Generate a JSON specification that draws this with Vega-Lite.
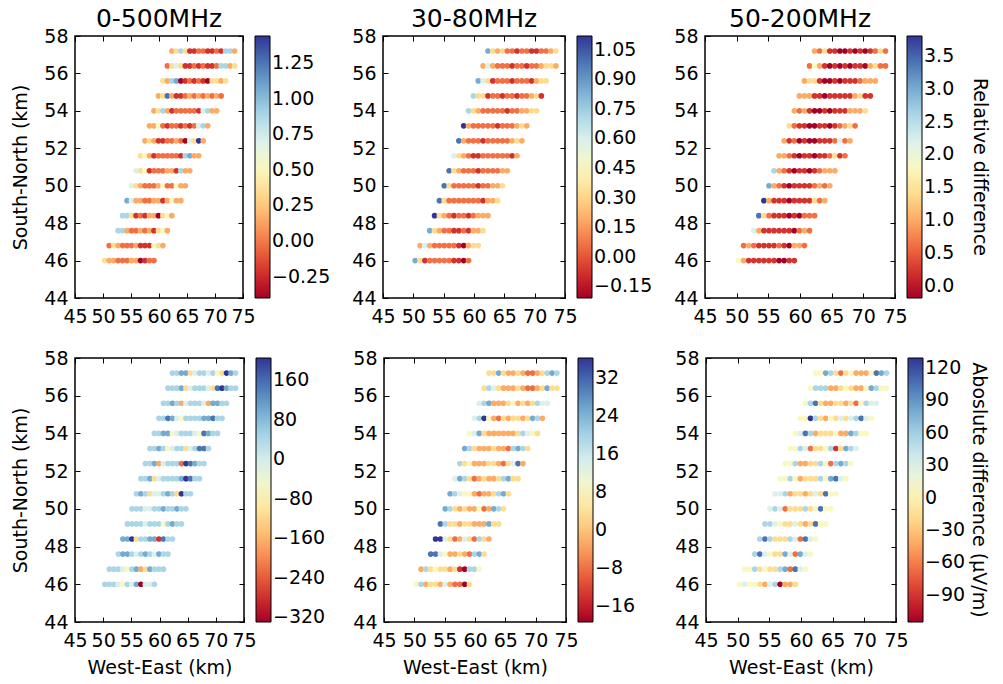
{
"$schema": "https://vega.github.io/schema/vega-lite/v6.json",
"background": "white",
"padding": {"left": 11, "top": 6, "right": 0, "bottom": 4},
"data": {"values": [
{"x":50.3,"y":46,"a":0.34,"b":0.85,"c":1.81,"d":44,"e":8.4,"f":7},
{"x":51.1,"y":46,"a":0.15,"b":0.32,"c":1.01,"d":44,"e":19.5,"f":31},
{"x":51.9,"y":46,"a":0.15,"b":-0.08,"c":0.22,"d":44,"e":-2.7,"f":7},
{"x":52.7,"y":46,"a":-0.03,"b":0.06,"c":0.22,"d":-9,"e":2.8,"f":7},
{"x":53.5,"y":46,"a":-0.03,"b":0.06,"c":0.22,"d":-62,"e":2.8,"f":-17},
{"x":54.3,"y":46,"a":-0.03,"b":0.06,"c":0.22,"d":44,"e":-2.7,"f":-42},
{"x":55.1,"y":46,"a":0.15,"b":0.06,"c":0.22,"d":-9,"e":14,"f":31},
{"x":55.9,"y":46,"a":0.15,"b":0.06,"c":0.22,"d":98,"e":-2.7,"f":56},
{"x":56.7,"y":46,"a":-0.4,"b":-0.08,"c":-0.18,"d":-330,"e":-8.3,"f":-115},
{"x":57.5,"y":46,"a":-0.22,"b":-0.08,"c":-0.18,"d":-9,"e":-8.3,"f":-42},
{"x":58.3,"y":46,"a":-0.03,"b":-0.21,"c":0.22,"d":-9,"e":-19.4,"f":-42},
{"x":59.1,"y":46,"a":-0.03,"b":0.06,"c":0.22,"d":44,"e":2.8,"f":-17},
{"x":51.1,"y":46.8,"a":-0.03,"b":0.19,"c":0.62,"d":44,"e":-2.7,"f":7},
{"x":51.9,"y":46.8,"a":0.34,"b":0.59,"c":1.01,"d":44,"e":19.5,"f":7},
{"x":52.7,"y":46.8,"a":0.15,"b":0.19,"c":0.62,"d":44,"e":2.8,"f":56},
{"x":53.5,"y":46.8,"a":-0.03,"b":0.06,"c":0.22,"d":-9,"e":8.4,"f":-17},
{"x":54.3,"y":46.8,"a":-0.03,"b":0.06,"c":0.22,"d":-62,"e":2.8,"f":7},
{"x":55.1,"y":46.8,"a":-0.03,"b":0.06,"c":0.22,"d":44,"e":2.8,"f":-17},
{"x":55.9,"y":46.8,"a":0.15,"b":0.06,"c":0.22,"d":98,"e":-2.7,"f":-17},
{"x":56.7,"y":46.8,"a":-0.22,"b":0.06,"c":0.62,"d":-170,"e":2.8,"f":56},
{"x":57.5,"y":46.8,"a":-0.22,"b":-0.08,"c":0.22,"d":-116,"e":-13.8,"f":80},
{"x":58.3,"y":46.8,"a":-0.22,"b":-0.21,"c":-0.18,"d":98,"e":-19.4,"f":-66},
{"x":59.1,"y":46.8,"a":0.52,"b":0.19,"c":1.01,"d":44,"e":19.5,"f":105},
{"x":59.9,"y":46.8,"a":0.34,"b":0.32,"c":1.01,"d":44,"e":19.5,"f":31},
{"x":60.7,"y":46.8,"a":0.15,"b":0.32,"c":0.62,"d":44,"e":8.4,"f":7},
{"x":52.7,"y":47.6,"a":0.89,"b":0.85,"c":2.21,"d":44,"e":30.6,"f":56},
{"x":53.5,"y":47.6,"a":0.89,"b":0.32,"c":1.01,"d":98,"e":30.6,"f":105},
{"x":54.3,"y":47.6,"a":0.15,"b":0.19,"c":0.22,"d":98,"e":14,"f":31},
{"x":55.1,"y":47.6,"a":-0.03,"b":0.06,"c":0.22,"d":44,"e":8.4,"f":7},
{"x":55.9,"y":47.6,"a":-0.03,"b":0.06,"c":0.22,"d":-9,"e":-2.7,"f":-17},
{"x":56.7,"y":47.6,"a":0.15,"b":-0.08,"c":0.22,"d":44,"e":-2.7,"f":-17},
{"x":57.5,"y":47.6,"a":-0.03,"b":-0.08,"c":0.22,"d":98,"e":2.8,"f":80},
{"x":58.3,"y":47.6,"a":0.15,"b":0.06,"c":0.22,"d":44,"e":-2.7,"f":31},
{"x":59.1,"y":47.6,"a":-0.22,"b":-0.08,"c":-0.18,"d":-9,"e":-8.3,"f":-66},
{"x":59.9,"y":47.6,"a":0.34,"b":0.19,"c":0.62,"d":98,"e":19.5,"f":80},
{"x":60.7,"y":47.6,"a":0.52,"b":0.19,"c":1.01,"d":44,"e":25.1,"f":31},
{"x":61.5,"y":47.6,"a":0.15,"b":0.32,"c":0.62,"d":44,"e":2.8,"f":7},
{"x":53.5,"y":48.4,"a":0.89,"b":1.12,"c":3.4,"d":98,"e":36.2,"f":56},
{"x":54.3,"y":48.4,"a":0.89,"b":0.32,"c":1.41,"d":98,"e":36.2,"f":105},
{"x":55.1,"y":48.4,"a":0.34,"b":0.19,"c":0.62,"d":205,"e":14,"f":56},
{"x":55.9,"y":48.4,"a":-0.22,"b":0.06,"c":0.22,"d":-116,"e":2.8,"f":-17},
{"x":56.7,"y":48.4,"a":-0.03,"b":-0.08,"c":0.22,"d":44,"e":-8.3,"f":-17},
{"x":57.5,"y":48.4,"a":-0.22,"b":0.06,"c":0.22,"d":44,"e":-2.7,"f":-17},
{"x":58.3,"y":48.4,"a":0.15,"b":0.06,"c":-0.18,"d":98,"e":14,"f":56},
{"x":59.1,"y":48.4,"a":0.15,"b":-0.08,"c":0.22,"d":98,"e":2.8,"f":31},
{"x":59.9,"y":48.4,"a":-0.4,"b":0.06,"c":-0.18,"d":-276,"e":-8.3,"f":-66},
{"x":60.7,"y":48.4,"a":0.34,"b":0.19,"c":0.62,"d":151,"e":19.5,"f":105},
{"x":61.5,"y":48.4,"a":0.52,"b":0.19,"c":0.62,"d":44,"e":2.8,"f":31},
{"x":62.3,"y":48.4,"a":0.15,"b":0.19,"c":0.62,"d":44,"e":-2.7,"f":7},
{"x":54.3,"y":49.2,"a":1.07,"b":0.99,"c":3.8,"d":44,"e":30.6,"f":56},
{"x":55.1,"y":49.2,"a":0.7,"b":0.32,"c":1.01,"d":44,"e":19.5,"f":56},
{"x":55.9,"y":49.2,"a":0.15,"b":0.06,"c":0.22,"d":44,"e":2.8,"f":31},
{"x":56.7,"y":49.2,"a":0.15,"b":0.06,"c":0.22,"d":44,"e":2.8,"f":7},
{"x":57.5,"y":49.2,"a":-0.03,"b":0.06,"c":0.22,"d":-9,"e":-2.7,"f":-17},
{"x":58.3,"y":49.2,"a":-0.03,"b":0.06,"c":-0.18,"d":44,"e":2.8,"f":-17},
{"x":59.1,"y":49.2,"a":0.15,"b":0.06,"c":0.22,"d":44,"e":2.8,"f":31},
{"x":59.9,"y":49.2,"a":0.15,"b":0.06,"c":0.22,"d":44,"e":-2.7,"f":-17},
{"x":60.7,"y":49.2,"a":-0.22,"b":0.06,"c":0.22,"d":-62,"e":-2.7,"f":-42},
{"x":61.5,"y":49.2,"a":0.15,"b":-0.08,"c":0.22,"d":44,"e":-2.7,"f":-17},
{"x":62.3,"y":49.2,"a":0.52,"b":0.19,"c":1.41,"d":98,"e":25.1,"f":105},
{"x":63.1,"y":49.2,"a":0.15,"b":0.19,"c":0.62,"d":44,"e":2.8,"f":7},
{"x":63.9,"y":49.2,"a":0.15,"b":0.32,"c":1.01,"d":44,"e":2.8,"f":7},
{"x":55.1,"y":50,"a":0.7,"b":0.99,"c":3,"d":44,"e":25.1,"f":31},
{"x":55.9,"y":50,"a":0.34,"b":0.32,"c":1.01,"d":44,"e":19.5,"f":56},
{"x":56.7,"y":50,"a":0.15,"b":0.06,"c":0.62,"d":44,"e":2.8,"f":31},
{"x":57.5,"y":50,"a":-0.03,"b":0.06,"c":0.22,"d":-9,"e":-2.7,"f":-66},
{"x":58.3,"y":50,"a":-0.03,"b":0.06,"c":-0.18,"d":-9,"e":2.8,"f":-17},
{"x":59.1,"y":50,"a":-0.03,"b":0.06,"c":0.22,"d":44,"e":-2.7,"f":-17},
{"x":59.9,"y":50,"a":0.15,"b":0.06,"c":0.22,"d":44,"e":-2.7,"f":-17},
{"x":60.7,"y":50,"a":0.52,"b":-0.08,"c":0.22,"d":98,"e":8.4,"f":56},
{"x":61.5,"y":50,"a":-0.03,"b":0.06,"c":0.22,"d":44,"e":-8.3,"f":-17},
{"x":62.3,"y":50,"a":-0.03,"b":0.06,"c":0.62,"d":44,"e":-2.7,"f":7},
{"x":63.1,"y":50,"a":0.52,"b":0.19,"c":1.01,"d":98,"e":25.1,"f":105},
{"x":63.9,"y":50,"a":0.15,"b":0.19,"c":0.62,"d":44,"e":19.5,"f":7},
{"x":64.7,"y":50,"a":0.15,"b":0.32,"c":1.01,"d":44,"e":2.8,"f":7},
{"x":55.9,"y":50.8,"a":0.7,"b":0.99,"c":2.61,"d":44,"e":25.1,"f":31},
{"x":56.7,"y":50.8,"a":0.34,"b":0.32,"c":1.01,"d":98,"e":19.5,"f":31},
{"x":57.5,"y":50.8,"a":0.52,"b":0.19,"c":0.62,"d":44,"e":14,"f":56},
{"x":58.3,"y":50.8,"a":-0.22,"b":0.06,"c":0.22,"d":-116,"e":8.4,"f":-42},
{"x":59.1,"y":50.8,"a":-0.03,"b":0.06,"c":-0.18,"d":-9,"e":8.4,"f":-17},
{"x":59.9,"y":50.8,"a":-0.03,"b":0.06,"c":0.22,"d":-9,"e":-2.7,"f":-17},
{"x":60.7,"y":50.8,"a":-0.03,"b":-0.08,"c":0.22,"d":44,"e":-8.3,"f":-42},
{"x":61.5,"y":50.8,"a":0.15,"b":0.06,"c":-0.18,"d":98,"e":-2.7,"f":-17},
{"x":62.3,"y":50.8,"a":0.15,"b":0.06,"c":0.22,"d":44,"e":-2.7,"f":31},
{"x":63.1,"y":50.8,"a":-0.22,"b":0.06,"c":0.62,"d":-116,"e":2.8,"f":-17},
{"x":63.9,"y":50.8,"a":0.89,"b":0.06,"c":1.01,"d":205,"e":19.5,"f":105},
{"x":64.7,"y":50.8,"a":0.15,"b":0.19,"c":1.01,"d":44,"e":25.1,"f":7},
{"x":65.5,"y":50.8,"a":0.15,"b":0.19,"c":1.01,"d":44,"e":2.8,"f":7},
{"x":56.7,"y":51.6,"a":0.34,"b":0.59,"c":1.01,"d":44,"e":14,"f":7},
{"x":57.5,"y":51.6,"a":0.52,"b":0.32,"c":1.01,"d":44,"e":25.1,"f":7},
{"x":58.3,"y":51.6,"a":0.15,"b":0.19,"c":0.62,"d":98,"e":19.5,"f":56},
{"x":59.1,"y":51.6,"a":-0.22,"b":0.06,"c":0.22,"d":-116,"e":2.8,"f":7},
{"x":59.9,"y":51.6,"a":-0.03,"b":-0.08,"c":-0.18,"d":-9,"e":-8.3,"f":-42},
{"x":60.7,"y":51.6,"a":-0.03,"b":-0.08,"c":0.22,"d":44,"e":-2.7,"f":-17},
{"x":61.5,"y":51.6,"a":-0.03,"b":0.06,"c":0.22,"d":44,"e":2.8,"f":-17},
{"x":62.3,"y":51.6,"a":-0.03,"b":0.06,"c":-0.18,"d":44,"e":-2.7,"f":-17},
{"x":63.1,"y":51.6,"a":-0.03,"b":0.06,"c":0.22,"d":44,"e":-2.7,"f":56},
{"x":63.9,"y":51.6,"a":-0.22,"b":0.06,"c":0.22,"d":98,"e":2.8,"f":7},
{"x":64.7,"y":51.6,"a":0.89,"b":0.06,"c":0.62,"d":205,"e":19.5,"f":80},
{"x":65.5,"y":51.6,"a":1.07,"b":0.06,"c":1.41,"d":151,"e":25.1,"f":105},
{"x":66.3,"y":51.6,"a":0.15,"b":-0.08,"c":0.22,"d":44,"e":2.8,"f":31},
{"x":67.1,"y":51.6,"a":0.15,"b":0.19,"c":0.62,"d":44,"e":2.8,"f":7},
{"x":57.5,"y":52.4,"a":0.15,"b":0.99,"c":1.01,"d":44,"e":19.5,"f":7},
{"x":58.3,"y":52.4,"a":0.34,"b":0.19,"c":0.22,"d":44,"e":2.8,"f":7},
{"x":59.1,"y":52.4,"a":0.15,"b":0.06,"c":0.62,"d":98,"e":8.4,"f":56},
{"x":59.9,"y":52.4,"a":-0.22,"b":0.06,"c":-0.18,"d":-170,"e":-2.7,"f":-42},
{"x":60.7,"y":52.4,"a":-0.22,"b":0.06,"c":0.22,"d":-9,"e":-2.7,"f":-42},
{"x":61.5,"y":52.4,"a":-0.03,"b":-0.08,"c":-0.18,"d":44,"e":-2.7,"f":-17},
{"x":62.3,"y":52.4,"a":-0.03,"b":0.06,"c":-0.18,"d":44,"e":2.8,"f":-17},
{"x":63.1,"y":52.4,"a":0.15,"b":0.06,"c":0.22,"d":44,"e":2.8,"f":56},
{"x":63.9,"y":52.4,"a":-0.03,"b":0.06,"c":0.22,"d":-223,"e":-2.7,"f":7},
{"x":64.7,"y":52.4,"a":-0.4,"b":0.06,"c":0.22,"d":205,"e":-8.3,"f":-66},
{"x":65.5,"y":52.4,"a":0.7,"b":0.06,"c":0.62,"d":151,"e":2.8,"f":56},
{"x":66.3,"y":52.4,"a":0.34,"b":0.19,"c":2.21,"d":98,"e":14,"f":80},
{"x":67.1,"y":52.4,"a":1.44,"b":0.32,"c":0.62,"d":44,"e":30.6,"f":56},
{"x":67.9,"y":52.4,"a":0.15,"b":0.19,"c":1.01,"d":44,"e":-2.7,"f":7},
{"x":58.3,"y":53.2,"a":0.15,"b":1.12,"c":1.41,"d":44,"e":25.1,"f":7},
{"x":59.1,"y":53.2,"a":0.15,"b":0.19,"c":0.62,"d":44,"e":19.5,"f":7},
{"x":59.9,"y":53.2,"a":0.52,"b":0.06,"c":0.22,"d":98,"e":2.8,"f":56},
{"x":60.7,"y":53.2,"a":-0.03,"b":0.06,"c":0.22,"d":44,"e":-2.7,"f":31},
{"x":61.5,"y":53.2,"a":-0.22,"b":0.06,"c":-0.18,"d":-62,"e":-2.7,"f":-66},
{"x":62.3,"y":53.2,"a":-0.03,"b":0.06,"c":-0.18,"d":-9,"e":-2.7,"f":-17},
{"x":63.1,"y":53.2,"a":-0.03,"b":0.06,"c":0.22,"d":44,"e":2.8,"f":-17},
{"x":63.9,"y":53.2,"a":-0.22,"b":-0.08,"c":0.22,"d":44,"e":-2.7,"f":7},
{"x":64.7,"y":53.2,"a":-0.03,"b":0.06,"c":-0.18,"d":-116,"e":-2.7,"f":56},
{"x":65.5,"y":53.2,"a":-0.22,"b":0.06,"c":0.22,"d":-9,"e":-8.3,"f":-91},
{"x":66.3,"y":53.2,"a":-0.03,"b":0.06,"c":0.62,"d":44,"e":19.5,"f":-17},
{"x":67.1,"y":53.2,"a":0.7,"b":0.19,"c":1.01,"d":151,"e":25.1,"f":80},
{"x":67.9,"y":53.2,"a":0.89,"b":0.32,"c":1.41,"d":151,"e":19.5,"f":56},
{"x":68.7,"y":53.2,"a":0.15,"b":0.19,"c":0.62,"d":44,"e":2.8,"f":31},
{"x":59.1,"y":54,"a":0.15,"b":0.72,"c":1.01,"d":44,"e":8.4,"f":7},
{"x":59.9,"y":54,"a":0.34,"b":0.32,"c":0.62,"d":44,"e":14,"f":31},
{"x":60.7,"y":54,"a":0.89,"b":0.19,"c":1.01,"d":98,"e":25.1,"f":105},
{"x":61.5,"y":54,"a":0.15,"b":0.06,"c":0.22,"d":98,"e":2.8,"f":56},
{"x":62.3,"y":54,"a":-0.22,"b":0.06,"c":-0.18,"d":-62,"e":-2.7,"f":-42},
{"x":63.1,"y":54,"a":-0.03,"b":0.06,"c":-0.18,"d":-9,"e":-2.7,"f":-17},
{"x":63.9,"y":54,"a":-0.03,"b":0.06,"c":0.22,"d":44,"e":-2.7,"f":-17},
{"x":64.7,"y":54,"a":-0.03,"b":0.06,"c":-0.18,"d":44,"e":-2.7,"f":-17},
{"x":65.5,"y":54,"a":-0.03,"b":-0.08,"c":0.22,"d":44,"e":-2.7,"f":7},
{"x":66.3,"y":54,"a":-0.03,"b":0.06,"c":0.22,"d":-9,"e":-2.7,"f":-42},
{"x":67.1,"y":54,"a":-0.22,"b":0.06,"c":0.22,"d":-62,"e":2.8,"f":-42},
{"x":67.9,"y":54,"a":0.7,"b":0.19,"c":1.01,"d":151,"e":19.5,"f":80},
{"x":68.7,"y":54,"a":0.89,"b":0.19,"c":1.01,"d":98,"e":14,"f":56},
{"x":69.5,"y":54,"a":0.15,"b":0.32,"c":1.01,"d":44,"e":8.4,"f":7},
{"x":70.3,"y":54,"a":0.15,"b":0.32,"c":1.41,"d":44,"e":2.8,"f":7},
{"x":59.9,"y":54.8,"a":0.15,"b":0.72,"c":1.01,"d":44,"e":14,"f":7},
{"x":60.7,"y":54.8,"a":0.34,"b":0.32,"c":1.01,"d":44,"e":19.5,"f":7},
{"x":61.5,"y":54.8,"a":1.26,"b":0.32,"c":1.01,"d":151,"e":36.2,"f":129},
{"x":62.3,"y":54.8,"a":0.15,"b":-0.08,"c":0.22,"d":98,"e":8.4,"f":56},
{"x":63.1,"y":54.8,"a":-0.22,"b":0.06,"c":0.22,"d":-9,"e":-2.7,"f":-17},
{"x":63.9,"y":54.8,"a":-0.22,"b":0.06,"c":-0.18,"d":-62,"e":-8.3,"f":-42},
{"x":64.7,"y":54.8,"a":-0.03,"b":-0.08,"c":0.22,"d":44,"e":2.8,"f":7},
{"x":65.5,"y":54.8,"a":0.15,"b":0.06,"c":0.22,"d":44,"e":-2.7,"f":-17},
{"x":66.3,"y":54.8,"a":-0.03,"b":0.06,"c":0.22,"d":44,"e":2.8,"f":31},
{"x":67.1,"y":54.8,"a":0.15,"b":-0.08,"c":0.22,"d":44,"e":2.8,"f":-17},
{"x":67.9,"y":54.8,"a":-0.03,"b":0.06,"c":0.22,"d":98,"e":-2.7,"f":31},
{"x":68.7,"y":54.8,"a":0.15,"b":0.06,"c":1.01,"d":98,"e":2.8,"f":56},
{"x":69.5,"y":54.8,"a":-0.03,"b":0.19,"c":1.41,"d":151,"e":25.1,"f":105},
{"x":70.3,"y":54.8,"a":0.15,"b":0.32,"c":0.22,"d":44,"e":19.5,"f":31},
{"x":71.1,"y":54.8,"a":-0.03,"b":-0.08,"c":0.22,"d":44,"e":-2.7,"f":7},
{"x":60.7,"y":55.6,"a":0.34,"b":0.85,"c":1.01,"d":44,"e":14,"f":7},
{"x":61.5,"y":55.6,"a":0.15,"b":0.59,"c":1.41,"d":44,"e":19.5,"f":56},
{"x":62.3,"y":55.6,"a":0.89,"b":0.32,"c":1.41,"d":98,"e":25.1,"f":105},
{"x":63.1,"y":55.6,"a":1.07,"b":-0.08,"c":0.22,"d":44,"e":-2.7,"f":-17},
{"x":63.9,"y":55.6,"a":-0.4,"b":0.06,"c":-0.18,"d":-170,"e":-2.7,"f":-42},
{"x":64.7,"y":55.6,"a":-0.22,"b":0.06,"c":-0.18,"d":-9,"e":-2.7,"f":-42},
{"x":65.5,"y":55.6,"a":-0.03,"b":0.06,"c":0.22,"d":44,"e":2.8,"f":-17},
{"x":66.3,"y":55.6,"a":-0.22,"b":-0.08,"c":-0.18,"d":44,"e":8.4,"f":-17},
{"x":67.1,"y":55.6,"a":-0.03,"b":0.06,"c":0.22,"d":44,"e":-2.7,"f":-42},
{"x":67.9,"y":55.6,"a":-0.22,"b":0.06,"c":0.22,"d":-9,"e":2.8,"f":-17},
{"x":68.7,"y":55.6,"a":-0.4,"b":0.06,"c":0.22,"d":-170,"e":-2.7,"f":-66},
{"x":69.5,"y":55.6,"a":0.34,"b":-0.08,"c":0.62,"d":98,"e":2.8,"f":7},
{"x":70.3,"y":55.6,"a":0.34,"b":0.19,"c":1.01,"d":98,"e":19.5,"f":56},
{"x":71.1,"y":55.6,"a":0.15,"b":0.32,"c":1.01,"d":44,"e":14,"f":31},
{"x":71.9,"y":55.6,"a":0.34,"b":0.32,"c":1.01,"d":44,"e":14,"f":31},
{"x":61.5,"y":56.4,"a":-0.03,"b":0.19,"c":0.62,"d":44,"e":2.8,"f":7},
{"x":62.3,"y":56.4,"a":0.34,"b":0.59,"c":1.81,"d":44,"e":19.5,"f":56},
{"x":63.1,"y":56.4,"a":0.7,"b":0.19,"c":1.01,"d":44,"e":14,"f":56},
{"x":63.9,"y":56.4,"a":0.34,"b":0.06,"c":0.22,"d":98,"e":2.8,"f":56},
{"x":64.7,"y":56.4,"a":-0.22,"b":0.06,"c":-0.18,"d":-116,"e":-2.7,"f":-42},
{"x":65.5,"y":56.4,"a":-0.22,"b":0.06,"c":0.22,"d":-9,"e":-2.7,"f":-42},
{"x":66.3,"y":56.4,"a":-0.03,"b":-0.08,"c":-0.18,"d":44,"e":-2.7,"f":-17},
{"x":67.1,"y":56.4,"a":-0.22,"b":0.06,"c":0.22,"d":44,"e":2.8,"f":7},
{"x":67.9,"y":56.4,"a":-0.03,"b":0.06,"c":-0.18,"d":44,"e":-2.7,"f":-17},
{"x":68.7,"y":56.4,"a":-0.22,"b":-0.08,"c":0.22,"d":-9,"e":-8.3,"f":-42},
{"x":69.5,"y":56.4,"a":-0.22,"b":0.06,"c":0.22,"d":-116,"e":-8.3,"f":-42},
{"x":70.3,"y":56.4,"a":-0.03,"b":0.06,"c":-0.18,"d":151,"e":-2.7,"f":7},
{"x":71.1,"y":56.4,"a":0.89,"b":0.19,"c":1.01,"d":205,"e":2.8,"f":80},
{"x":71.9,"y":56.4,"a":0.89,"b":0.32,"c":1.41,"d":98,"e":25.1,"f":56},
{"x":72.7,"y":56.4,"a":0.15,"b":0.32,"c":0.62,"d":44,"e":2.8,"f":7},
{"x":73.5,"y":56.4,"a":0.34,"b":0.19,"c":0.62,"d":44,"e":2.8,"f":7},
{"x":62.3,"y":57.2,"a":0.15,"b":0.85,"c":1.01,"d":44,"e":2.8,"f":7},
{"x":63.1,"y":57.2,"a":0.34,"b":0.32,"c":0.62,"d":44,"e":2.8,"f":7},
{"x":63.9,"y":57.2,"a":0.89,"b":0.19,"c":1.41,"d":98,"e":25.1,"f":80},
{"x":64.7,"y":57.2,"a":0.34,"b":0.32,"c":0.22,"d":98,"e":2.8,"f":56},
{"x":65.5,"y":57.2,"a":-0.22,"b":0.06,"c":0.22,"d":-116,"e":-2.7,"f":-17},
{"x":66.3,"y":57.2,"a":-0.22,"b":0.06,"c":-0.18,"d":-9,"e":-2.7,"f":-66},
{"x":67.1,"y":57.2,"a":-0.03,"b":-0.08,"c":-0.18,"d":44,"e":2.8,"f":-17},
{"x":67.9,"y":57.2,"a":-0.03,"b":0.06,"c":0.22,"d":44,"e":-2.7,"f":7},
{"x":68.7,"y":57.2,"a":-0.22,"b":0.06,"c":-0.18,"d":-9,"e":-8.3,"f":-42},
{"x":69.5,"y":57.2,"a":-0.22,"b":-0.08,"c":0.22,"d":44,"e":-8.3,"f":-42},
{"x":70.3,"y":57.2,"a":-0.03,"b":-0.08,"c":-0.18,"d":-62,"e":-2.7,"f":-42},
{"x":71.1,"y":57.2,"a":-0.22,"b":0.06,"c":0.22,"d":-116,"e":2.8,"f":7},
{"x":71.9,"y":57.2,"a":0.89,"b":0.06,"c":0.62,"d":205,"e":19.5,"f":105},
{"x":72.7,"y":57.2,"a":0.89,"b":0.19,"c":1.41,"d":98,"e":25.1,"f":80},
{"x":73.5,"y":57.2,"a":0.15,"b":0.32,"c":0.62,"d":44,"e":19.5,"f":56}
]},
"config": {
  "font": "DejaVu Sans",
  "view": {"stroke": "black", "strokeWidth": 1.5},
  "axis": {"grid": false, "domain": false, "ticks": true, "tickColor": "black", "tickSize": -5, "tickWidth": 1, "labelFont": "DejaVu Sans", "labelFontSize": 19, "labelColor": "black", "labelOverlap": false, "labelFlush": false, "titleFont": "DejaVu Sans", "titleFontSize": 19, "titleFontWeight": "normal", "titleColor": "black"},
  "axisX": {"labelPadding": 14, "titlePadding": 8},
  "axisY": {"labelPadding": 12, "titlePadding": 13},
  "legend": {"gradientThickness": 15, "gradientStrokeColor": "black", "gradientStrokeWidth": 1, "labelFont": "DejaVu Sans", "labelFontSize": 19, "labelColor": "black", "labelOffset": 7, "labelOverlap": false, "offset": 11, "padding": 0, "gradientVerticalMaxLength": 400, "titleFont": "DejaVu Sans", "titleFontSize": 19, "titleFontWeight": "normal", "titleColor": "black", "titleLimit": 0},
  "title": {"font": "DejaVu Sans", "fontSize": 25, "fontWeight": "normal", "color": "black", "offset": -5, "frame": "group"}
},
"resolve": {"scale": {"color": "independent"}, "legend": {"color": "independent"}},
"vconcat": [
 {"resolve": {"scale": {"color": "independent"}, "legend": {"color": "independent"}},
  "bounds": "flush",
  "hconcat": [
  {"width": 168, "height": 262, "title": "0-500MHz",
   "layer": [
    {"mark": {"type": "circle", "size": 32, "opacity": 1},
     "encoding": {
      "x": {"field": "x", "type": "quantitative", "scale": {"domain": [45, 75], "nice": false, "zero": false}, "axis": {"title": null, "orient": "bottom", "values": [45,50,55,60,65,70,75]}},
      "y": {"field": "y", "type": "quantitative", "scale": {"domain": [44, 58], "nice": false, "zero": false}, "axis": {"title": "South-North (km)", "orient": "left", "values": [44,46,48,50,52,54,56,58]}},
      "color": {"field": "a", "type": "quantitative", "scale": {"scheme": "redyellowblue", "domain": [-0.4, 1.44]}, "legend": {"title": null, "values": [-0.25,0,0.25,0.5,0.75,1,1.25], "format": ".2f", "gradientLength": 262}}}},
    {"mark": {"type": "circle", "opacity": 0},
     "encoding": {
      "x": {"field": "x", "type": "quantitative", "axis": {"title": null, "orient": "top", "labels": false, "values": [45,50,55,60,65,70,75]}},
      "y": {"field": "y", "type": "quantitative", "axis": {"title": null, "orient": "right", "labels": false, "values": [44,46,48,50,52,54,56,58]}}}}
   ],
   "resolve": {"axis": {"x": "independent", "y": "independent"}}},
  {"width": 182, "height": 262, "title": "30-80MHz",
   "layer": [
    {"mark": {"type": "circle", "size": 32, "opacity": 1},
     "encoding": {
      "x": {"field": "x", "type": "quantitative", "scale": {"domain": [45, 75], "nice": false, "zero": false}, "axis": {"title": null, "orient": "bottom", "values": [45,50,55,60,65,70,75]}},
      "y": {"field": "y", "type": "quantitative", "scale": {"domain": [44, 58], "nice": false, "zero": false}, "axis": {"title": null, "orient": "left", "values": [44,46,48,50,52,54,56,58]}},
      "color": {"field": "b", "type": "quantitative", "scale": {"scheme": "redyellowblue", "domain": [-0.21, 1.12]}, "legend": {"title": null, "values": [-0.15,0,0.15,0.3,0.45,0.6,0.75,0.9,1.05], "format": ".2f", "gradientLength": 262}}}},
    {"mark": {"type": "circle", "opacity": 0},
     "encoding": {
      "x": {"field": "x", "type": "quantitative", "axis": {"title": null, "orient": "top", "labels": false, "values": [45,50,55,60,65,70,75]}},
      "y": {"field": "y", "type": "quantitative", "axis": {"title": null, "orient": "right", "labels": false, "values": [44,46,48,50,52,54,56,58]}}}}
   ],
   "resolve": {"axis": {"x": "independent", "y": "independent"}}},
  {"width": 190, "height": 262, "title": "50-200MHz",
   "layer": [
    {"mark": {"type": "circle", "size": 32, "opacity": 1},
     "encoding": {
      "x": {"field": "x", "type": "quantitative", "scale": {"domain": [45, 75], "nice": false, "zero": false}, "axis": {"title": null, "orient": "bottom", "values": [45,50,55,60,65,70,75]}},
      "y": {"field": "y", "type": "quantitative", "scale": {"domain": [44, 58], "nice": false, "zero": false}, "axis": {"title": null, "orient": "left", "values": [44,46,48,50,52,54,56,58]}},
      "color": {"field": "c", "type": "quantitative", "scale": {"scheme": "redyellowblue", "domain": [-0.18, 3.8]}, "legend": {"title": "Relative difference", "titleOrient": "right", "titleAnchor": "middle", "titleAlign": "center", "titlePadding": 16, "values": [0,0.5,1,1.5,2,2.5,3,3.5], "format": ".1f", "gradientLength": 262, "encode": {"title": {"update": {"angle": {"value": 270}}}}}}}},
    {"mark": {"type": "circle", "opacity": 0},
     "encoding": {
      "x": {"field": "x", "type": "quantitative", "axis": {"title": null, "orient": "top", "labels": false, "values": [45,50,55,60,65,70,75]}},
      "y": {"field": "y", "type": "quantitative", "axis": {"title": null, "orient": "right", "labels": false, "values": [44,46,48,50,52,54,56,58]}}}}
   ],
   "resolve": {"axis": {"x": "independent", "y": "independent"}}}
 ], "spacing": 140},
 {"resolve": {"scale": {"color": "independent"}, "legend": {"color": "independent"}},
  "bounds": "flush",
  "hconcat": [
  {"width": 169, "height": 264,
   "layer": [
    {"mark": {"type": "circle", "size": 32, "opacity": 1},
     "encoding": {
      "x": {"field": "x", "type": "quantitative", "scale": {"domain": [45, 75], "nice": false, "zero": false}, "axis": {"title": "West-East (km)", "orient": "bottom", "values": [45,50,55,60,65,70,75]}},
      "y": {"field": "y", "type": "quantitative", "scale": {"domain": [44, 58], "nice": false, "zero": false}, "axis": {"title": "South-North (km)", "orient": "left", "values": [44,46,48,50,52,54,56,58]}},
      "color": {"field": "d", "type": "quantitative", "scale": {"scheme": "redyellowblue", "domain": [-330, 205]}, "legend": {"title": null, "values": [-320,-240,-160,-80,0,80,160], "gradientLength": 264}}}},
    {"mark": {"type": "circle", "opacity": 0},
     "encoding": {
      "x": {"field": "x", "type": "quantitative", "axis": {"title": null, "orient": "top", "labels": false, "values": [45,50,55,60,65,70,75]}},
      "y": {"field": "y", "type": "quantitative", "axis": {"title": null, "orient": "right", "labels": false, "values": [44,46,48,50,52,54,56,58]}}}}
   ],
   "resolve": {"axis": {"x": "independent", "y": "independent"}}},
  {"width": 182, "height": 264,
   "layer": [
    {"mark": {"type": "circle", "size": 32, "opacity": 1},
     "encoding": {
      "x": {"field": "x", "type": "quantitative", "scale": {"domain": [45, 75], "nice": false, "zero": false}, "axis": {"title": "West-East (km)", "orient": "bottom", "values": [45,50,55,60,65,70,75]}},
      "y": {"field": "y", "type": "quantitative", "scale": {"domain": [44, 58], "nice": false, "zero": false}, "axis": {"title": null, "orient": "left", "values": [44,46,48,50,52,54,56,58]}},
      "color": {"field": "e", "type": "quantitative", "scale": {"scheme": "redyellowblue", "domain": [-19.4, 36.2]}, "legend": {"title": null, "values": [-16,-8,0,8,16,24,32], "gradientLength": 264}}}},
    {"mark": {"type": "circle", "opacity": 0},
     "encoding": {
      "x": {"field": "x", "type": "quantitative", "axis": {"title": null, "orient": "top", "labels": false, "values": [45,50,55,60,65,70,75]}},
      "y": {"field": "y", "type": "quantitative", "axis": {"title": null, "orient": "right", "labels": false, "values": [44,46,48,50,52,54,56,58]}}}}
   ],
   "resolve": {"axis": {"x": "independent", "y": "independent"}}},
  {"width": 190, "height": 264,
   "layer": [
    {"mark": {"type": "circle", "size": 32, "opacity": 1},
     "encoding": {
      "x": {"field": "x", "type": "quantitative", "scale": {"domain": [45, 75], "nice": false, "zero": false}, "axis": {"title": "West-East (km)", "orient": "bottom", "values": [45,50,55,60,65,70,75]}},
      "y": {"field": "y", "type": "quantitative", "scale": {"domain": [44, 58], "nice": false, "zero": false}, "axis": {"title": null, "orient": "left", "values": [44,46,48,50,52,54,56,58]}},
      "color": {"field": "f", "type": "quantitative", "scale": {"scheme": "redyellowblue", "domain": [-115, 129]}, "legend": {"title": "Aboslute difference (μV/m)", "titleOrient": "right", "titleAnchor": "middle", "titleAlign": "center", "titlePadding": 4, "values": [-90,-60,-30,0,30,60,90,120], "gradientLength": 264, "encode": {"title": {"update": {"angle": {"value": 270}}}}}}}},
    {"mark": {"type": "circle", "opacity": 0},
     "encoding": {
      "x": {"field": "x", "type": "quantitative", "axis": {"title": null, "orient": "top", "labels": false, "values": [45,50,55,60,65,70,75]}},
      "y": {"field": "y", "type": "quantitative", "axis": {"title": null, "orient": "right", "labels": false, "values": [44,46,48,50,52,54,56,58]}}}}
   ],
   "resolve": {"axis": {"x": "independent", "y": "independent"}}}
 ], "spacing": 140}
],
"spacing": 21
}
